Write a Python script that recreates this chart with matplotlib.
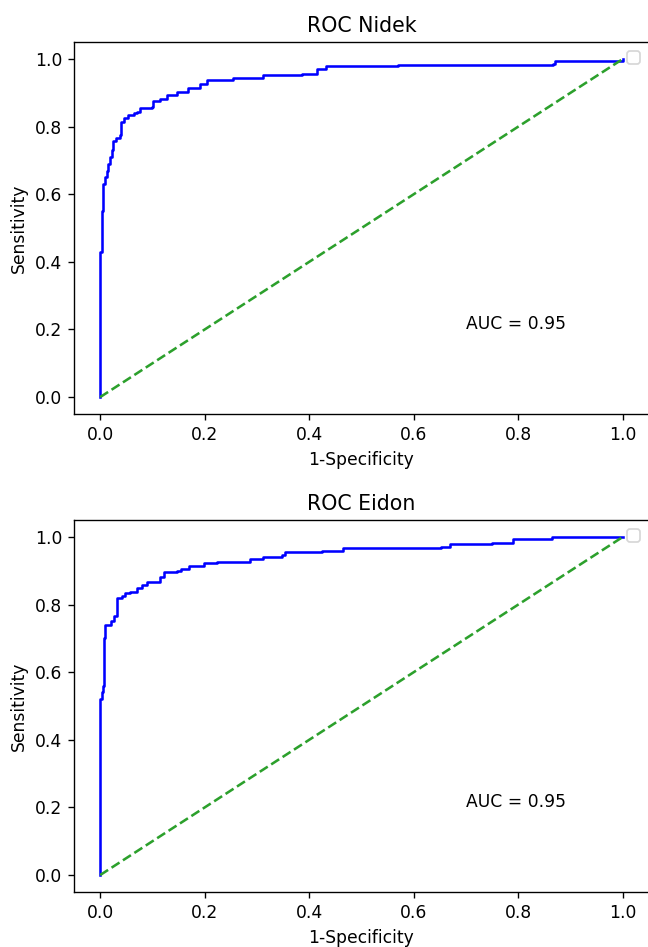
import numpy as np
import matplotlib.pyplot as plt

# ROC Nidek
fpr_nidek = [0.0, 0.0, 0.003, 0.004, 0.006, 0.010, 0.013, 0.016, 0.019, 0.022, 0.025,
             0.030, 0.038, 0.040, 0.046, 0.054, 0.065, 0.070, 0.076, 0.099, 0.102,
             0.115, 0.127, 0.147, 0.169, 0.191, 0.204, 0.255, 0.312, 0.386, 0.414,
             0.433, 0.570, 0.867, 0.870, 1.0]
tpr_nidek = [0.0, 0.43, 0.47, 0.55, 0.63, 0.65, 0.67, 0.69, 0.71, 0.73, 0.756,
             0.766, 0.776, 0.815, 0.825, 0.834, 0.840, 0.844, 0.854, 0.859, 0.876,
             0.882, 0.893, 0.903, 0.913, 0.927, 0.937, 0.944, 0.952, 0.956, 0.971,
             0.979, 0.983, 0.985, 0.993, 1.0]

# ROC Eidon
fpr_eidon = [0.0, 0.0, 0.004, 0.005, 0.007, 0.007, 0.010, 0.020, 0.026, 0.033, 0.042,
             0.048, 0.058, 0.071, 0.080, 0.090, 0.106, 0.115, 0.122, 0.147, 0.154,
             0.170, 0.198, 0.224, 0.287, 0.312, 0.347, 0.354, 0.424, 0.465, 0.653,
             0.669, 0.749, 0.790, 0.864, 1.0]
tpr_eidon = [0.0, 0.52, 0.54, 0.56, 0.60, 0.70, 0.74, 0.75, 0.765, 0.819, 0.824,
             0.833, 0.838, 0.848, 0.858, 0.866, 0.868, 0.882, 0.897, 0.899, 0.905,
             0.915, 0.922, 0.926, 0.934, 0.941, 0.946, 0.956, 0.958, 0.968, 0.971,
             0.980, 0.983, 0.993, 0.999, 1.0]

auc_nidek = 0.95
auc_eidon = 0.95

DPI = 123
fig = plt.figure(figsize=(648 / DPI, 947 / DPI), dpi=DPI)
ax1 = fig.add_axes([0.1142, 0.5628, 0.8873, 0.3928])
ax2 = fig.add_axes([0.1142, 0.0581, 0.8873, 0.3928])

for ax, fpr, tpr, auc, titulo in [(ax1, fpr_nidek, tpr_nidek, auc_nidek, 'ROC Nidek'),
                                  (ax2, fpr_eidon, tpr_eidon, auc_eidon, 'ROC Eidon')]:
    ax.plot(fpr, tpr, color='blue', drawstyle='steps-post')
    ax.plot([0, 1], [0, 1], color='tab:green', linestyle='--')
    ax.text(0.7, 0.2, 'AUC = %.2f' % auc)
    ax.set_title(titulo)
    ax.set_xlabel('1-Specificity')
    ax.set_ylabel('Sensitivity')
    ax.legend(loc='upper right')

fig.savefig('out.png', dpi=DPI)
